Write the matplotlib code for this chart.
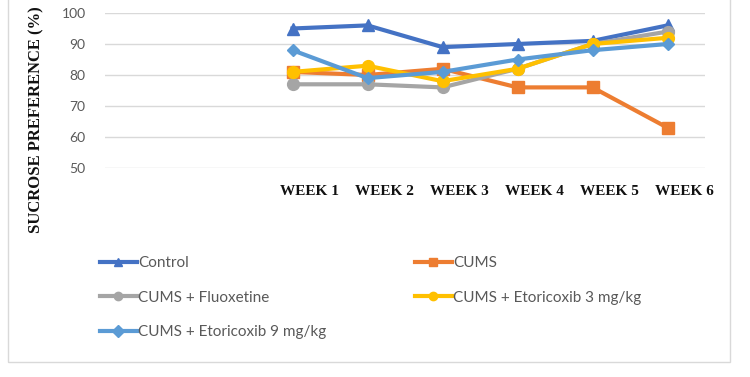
import numpy as np
import matplotlib
matplotlib.use("Agg")
import matplotlib.pyplot as plt
from matplotlib.patches import Rectangle
from matplotlib.transforms import ScaledTranslation

# two empty leading categories, as in the original sheet
categories = ["", "", "WEEK 1", "WEEK 2", "WEEK 3", "WEEK 4", "WEEK 5", "WEEK 6"]
n_blank = 2

control = [95, 96, 89, 90, 91, 96]
cums = [81, 80, 82, 76, 76, 63]
fluoxetine = [77, 77, 76, 82, 90, 94]
etori_3 = [81, 83, 78, 82, 90, 92]
etori_9 = [88, 79, 81, 85, 88, 90]

series_names = ["Control", "CUMS", "CUMS + Fluoxetine",
                "CUMS + Etoricoxib 3 mg/kg", "CUMS + Etoricoxib 9 mg/kg"]
series_values = [control, cums, fluoxetine, etori_3, etori_9]
colors = ["#4472C4", "#ED7D31", "#A5A5A5", "#FFC000", "#5B9BD5"]
markers = ["^", "s", "o", "o", "D"]
msizes = [9, 8.5, 8.5, 8.5, 6.5]

fig = plt.figure(figsize=(7.5, 3.77), dpi=100)
ax = fig.add_axes([105 / 750, 1 - 168 / 377, 600 / 750, 155 / 377])

x = np.arange(len(categories))
lines = []
for name, vals, c, m, ms in zip(series_names, series_values, colors, markers, msizes):
    ln, = ax.plot(x[n_blank:], vals, color=c, lw=3, marker=m, ms=ms,
                  label=name, clip_on=False, solid_joinstyle="round")
    lines.append(ln)

ax.set_xlim(-0.5, len(categories) - 0.5)
ax.set_ylim(50, 100)
ax.set_yticks(range(50, 101, 10))
ax.yaxis.grid(True, color="#D9D9D9", lw=1)
ax.set_axisbelow(True)
for s in ax.spines.values():
    s.set_visible(False)
ax.tick_params(axis="y", length=0, pad=14, labelcolor="#595959", labelsize=10)
for t in ax.get_yticklabels():
    t.set_fontfamily("Lato")

ax.set_xticks(x)
ax.set_xticklabels(categories, fontfamily="Liberation Serif", fontweight="bold",
                   fontsize=11, color="#111111")
ax.tick_params(axis="x", length=0, pad=12)
shift = ScaledTranslation(0.17, 0, fig.dpi_scale_trans)
for t in ax.get_xticklabels():
    t.set_transform(t.get_transform() + shift)

fig.text(36 / 750, 1 - 120 / 377, "SUCROSE PREFERENCE (%)", rotation=90,
         ha="center", va="center", fontfamily="Liberation Serif",
         fontweight="bold", fontsize=12, color="#111111")

leg_kw = dict(frameon=False, handlelength=2.4, handletextpad=0.1,
              labelspacing=1.35, borderpad=0, borderaxespad=0,
              prop={"family": "Lato", "size": 11}, labelcolor="#595959")
left_leg = fig.legend([lines[0], lines[2], lines[4]],
                      [series_names[0], series_names[2], series_names[4]],
                      loc="upper left", bbox_to_anchor=(100 / 750, 1 - 256 / 377),
                      **leg_kw)
right_leg = fig.legend([lines[1], lines[3]], [series_names[1], series_names[3]],
                       loc="upper left", bbox_to_anchor=(415 / 750, 1 - 256 / 377),
                       **leg_kw)
for lg in (left_leg, right_leg):
    for h in lg.legend_handles:
        h.set_markersize(6)

fig.patches.append(Rectangle((8 / 750, 1 - 362 / 377), 722 / 750, 1.0,
                             transform=fig.transFigure, fill=False,
                             edgecolor="#D9D9D9", lw=1))

fig.savefig("out.png", dpi=100)
